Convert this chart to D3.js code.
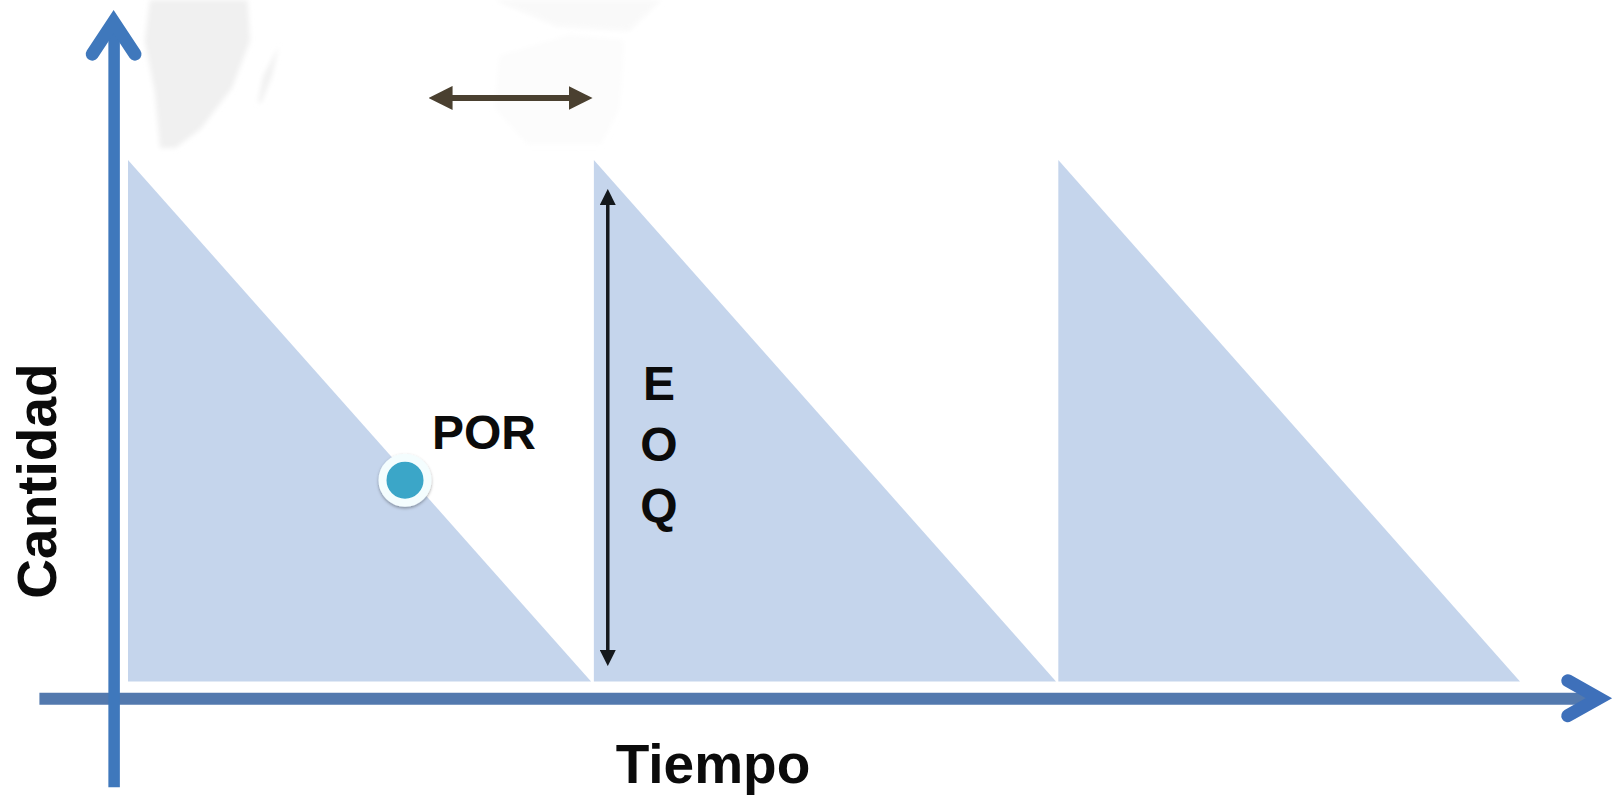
<!DOCTYPE html>
<html>
<head>
<meta charset="utf-8">
<script src="https://cdn.jsdelivr.net/npm/d3@7"></script>
<style>
  html, body { margin: 0; padding: 0; background: #fff; }
  svg { display: block; }
  text { font-family: "Liberation Sans", sans-serif; font-weight: bold; fill: #0b0b0b; }
</style>
</head>
<body>
<div id="svgcontainer"></div>
<script>
// --- Data ---
// time is in order cycles, quantity is % of the EOQ
var cycle_start = [0, 1.004, 2.005];
var cycle_end = [0.998, 2.0, 3.0];
var cycle_peak = [100, 100, 100];

var por_time = [0.597];
var por_quantity = [38.6];

var eoq_time = [1.034];
var eoq_range = [92.3, 5.1];
var eoq_letters = ["E", "O", "Q"];

var lead_range = [0.684, 0.965];
var lead_quantity = [111.9];

var x_axis_extent = [-0.192, 3.17];
var y_axis_extent = [-20.2, 126.5];
var x_label = "Tiempo";
var y_label = "Cantidad";
var por_label = "POR";

// faint map showing through the original slide, [time, quantity]
var ghost_big = [[0.047, 130.7], [0.258, 130.7], [0.263, 122.8], [0.224, 113.8], [0.157, 106], [0.102, 102.3], [0.069, 102.3], [0.058, 112.9], [0.036, 122.8]];
var ghost_small = [[0.325, 121.8], [0.291, 116], [0.28, 111], [0.287, 111], [0.31, 116]];
var ghost_right = [[0.8, 120], [0.95, 124], [1.07, 123], [1.06, 110], [1.02, 103], [0.86, 103], [0.79, 110]];
var ghost_top = [[0.788, 130.7], [0.925, 125.6], [1.08, 124.7], [1.15, 130.7]];

// --- Initialization ---
var width = 1619;
var height = 796;

var axis_color_y = "#3f78bc";
var axis_color_x = "#5379ae";
var area_color = "#c5d5ec";

// y range is inverted, 0 is the bottom edge of the triangles
var x = d3.scaleLinear().domain([0, 3]).range([128, 1520]);
var y = d3.scaleLinear().domain([0, 100]).range([681.5, 160]);

var svg = d3.select("#svgcontainer").append("svg")
    .attr("width", width).attr("height", height)
    .attr("viewBox", [0, 0, width, height]);

var defs = svg.append("defs");
defs.append("filter").attr("id", "ghost-blur")
    .append("feGaussianBlur").attr("stdDeviation", 2.5);
var dot_shadow = defs.append("filter").attr("id", "dot-shadow")
    .attr("x", "-30%").attr("y", "-30%").attr("width", "160%").attr("height", "160%");
dot_shadow.append("feDropShadow")
    .attr("dx", 0).attr("dy", 1.5).attr("stdDeviation", 1.5)
    .attr("flood-color", "#000").attr("flood-opacity", 0.35);

var pathFrom = d3.line().x(d => x(d[0])).y(d => y(d[1]));

drawGhost();
drawCycles();
drawAxes();
drawArrows();
drawLabels();

// --- Functions ---

function drawGhost(){
    var ghosts = [
        {points: ghost_big, color: "#f0f0f0"},
        {points: ghost_small, color: "#f1f1f1"},
        {points: ghost_right, color: "#fcfcfc"},
        {points: ghost_top, color: "#f9f9f9"}
    ];
    svg.append("g").attr("filter", "url(#ghost-blur)")
        .selectAll("path").data(ghosts).join("path")
        .attr("d", d => pathFrom(d.points) + "Z")
        .attr("fill", d => d.color);
}

function drawCycles(){
    svg.append("g").selectAll("path").data(cycle_start).join("path")
        .attr("d", (d, i) => pathFrom([[d, 0], [d, cycle_peak[i]], [cycle_end[i], 0]]) + "Z")
        .attr("fill", area_color);
}

function drawAxes(){
    // Axes without ticks, only the domain line stays
    var x_wide = x.copy().domain(x_axis_extent).range(x_axis_extent.map(x));
    var y_wide = y.copy().domain(y_axis_extent).range(y_axis_extent.map(y));
    var x_zero = -3.2;
    var y_zero = -0.031;

    var xAxis = svg.append("g")
        .attr("transform", "translate(0," + y(x_zero) + ")")
        .call(d3.axisBottom(x_wide).tickValues([]).tickSizeOuter(0));
    xAxis.select(".domain").attr("stroke", axis_color_x).attr("stroke-width", 12);

    var yAxis = svg.append("g")
        .attr("transform", "translate(" + x(y_zero) + ",0)")
        .call(d3.axisLeft(y_wide).tickValues([]).tickSizeOuter(0));
    yAxis.select(".domain").attr("stroke", axis_color_y).attr("stroke-width", 11.5);

    // Open arrow heads, the tips sit at the end of the axes
    var x_tip = x_axis_extent[1];
    var y_tip = y_axis_extent[1];
    var heads = [
        {points: [[x_tip - 0.067, x_zero + 3.36], [x_tip, x_zero], [x_tip - 0.067, x_zero - 3.36]], color: "#3e70ba"},
        {points: [[y_zero - 0.046, y_tip - 6.2], [y_zero, y_tip], [y_zero + 0.046, y_tip - 6.2]], color: axis_color_y}
    ];
    svg.append("g").selectAll("path").data(heads).join("path")
        .attr("d", d => pathFrom(d.points))
        .attr("fill", "none")
        .attr("stroke", d => d.color)
        .attr("stroke-width", 13)
        .attr("stroke-linecap", "round")
        .attr("stroke-linejoin", "miter");
}

function addArrowMarker(id, color, size){
    defs.append("marker").attr("id", id)
        .attr("viewBox", "0 0 10 10").attr("refX", 3).attr("refY", 5)
        .attr("markerUnits", "userSpaceOnUse")
        .attr("markerWidth", size).attr("markerHeight", size)
        .attr("orient", "auto-start-reverse")
        .append("path").attr("d", "M0,0L10,5L0,10Z").attr("fill", color);
}

function drawArrows(){
    addArrowMarker("head-black", "#14181c", 16);
    addArrowMarker("head-brown", "#4a4030", 24);

    svg.append("path")
        .attr("d", pathFrom(eoq_range.map(q => [eoq_time[0], q])))
        .attr("fill", "none").attr("stroke", "#14181c").attr("stroke-width", 3.5)
        .attr("marker-start", "url(#head-black)")
        .attr("marker-end", "url(#head-black)");

    svg.append("path")
        .attr("d", pathFrom(lead_range.map(t => [t, lead_quantity[0]])))
        .attr("fill", "none").attr("stroke", "#4a4030").attr("stroke-width", 6)
        .attr("marker-start", "url(#head-brown)")
        .attr("marker-end", "url(#head-brown)");

    // Reorder point
    svg.append("circle")
        .attr("cx", x(por_time[0])).attr("cy", y(por_quantity[0]))
        .attr("r", 22.5)
        .attr("fill", "#3aa6c8")
        .attr("stroke", "#f4fdfe").attr("stroke-width", 8)
        .attr("filter", "url(#dot-shadow)");
}

function drawLabels(){
    svg.append("text").attr("x", 432).attr("y", 449)
        .attr("font-size", 48).text(por_label);

    svg.append("g").selectAll("text").data(eoq_letters).join("text")
        .attr("x", 659).attr("y", (d, i) => 400 + i * 61)
        .attr("text-anchor", "middle")
        .attr("font-size", 48).text(d => d);

    svg.append("text").attr("x", 713).attr("y", 783)
        .attr("text-anchor", "middle")
        .attr("font-size", 55).text(x_label);

    svg.append("text")
        .attr("transform", "translate(56,481) rotate(-90)")
        .attr("text-anchor", "middle")
        .attr("font-size", 55).text(y_label);
}
</script>
</body>
</html>
